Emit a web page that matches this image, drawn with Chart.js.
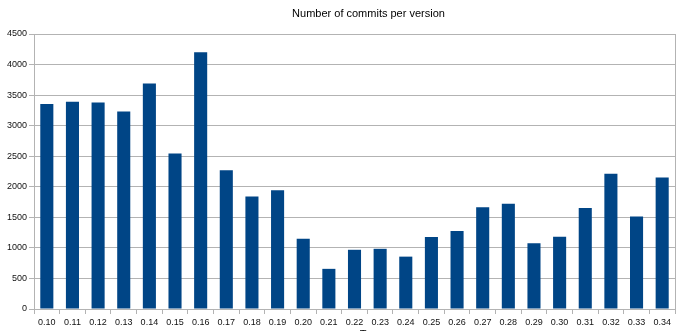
<!DOCTYPE html>
<html>
<head>
<meta charset="utf-8">
<script src="https://cdn.jsdelivr.net/npm/chart.js@4/dist/chart.umd.min.js"></script>
<style>
  html, body { margin: 0; padding: 0; background: #fff; }
  #wrap { width: 690px; height: 331px; }
</style>
</head>
<body>
<div id="wrap"><canvas id="myChart"></canvas></div>
<script>
// versions and commit counts
const versions = ["0.10", "0.11", "0.12", "0.13", "0.14", "0.15", "0.16", "0.17", "0.18", "0.19",
  "0.20", "0.21", "0.22", "0.23", "0.24", "0.25", "0.26", "0.27", "0.28", "0.29",
  "0.30", "0.31", "0.32", "0.33", "0.34"];
const commits = [3355, 3390, 3380, 3230, 3690, 2546, 4200, 2270, 1840, 1945,
  1150, 657, 969, 985, 857, 1180, 1278, 1664, 1724, 1075,
  1182, 1654, 2212, 1515, 2151];
const yTicks = [0, 500, 1000, 1500, 2000, 2500, 3000, 3500, 4000, 4500];

const titleText = "Number of commits per version";
const xTitleText = "Tag";
const gridGray = "#b3b3b3";

// title + axis title are drawn a bit right of center like the original,
// plus the right edge of the plot frame
const frameAndTitles = {
  id: "frameAndTitles",
  afterDraw(chart) {
    const ctx = chart.ctx;
    const a = chart.chartArea;
    const cx = (a.left + a.right) / 2 + 14;
    ctx.save();
    ctx.strokeStyle = gridGray;
    ctx.lineWidth = 1;
    ctx.beginPath();
    ctx.moveTo(Math.round(a.right) + 0.5, a.top);
    ctx.lineTo(Math.round(a.right) + 0.5, a.bottom);
    ctx.stroke();

    ctx.fillStyle = "#000";
    ctx.textAlign = "center";
    ctx.textBaseline = "middle";
    ctx.font = "11px 'Liberation Sans', Arial, sans-serif";
    ctx.fillText(titleText, cx, 13.5);

    ctx.textBaseline = "top";
    ctx.fillText(xTitleText, cx, chart.height - 2);
    ctx.restore();
  }
};

new Chart("myChart", {
  type: "bar",
  data: {
    labels: versions,
    datasets: [{
      data: commits,
      backgroundColor: "#004586",
      borderWidth: 0,
      barPercentage: 0.51,
      categoryPercentage: 1
    }]
  },
  options: {
    responsive: true,
    maintainAspectRatio: false,
    animation: false,
    layout: { padding: { top: 34, right: 15, left: 0, bottom: 0 } },
    plugins: {
      legend: { display: false },
      title: { display: false },
      tooltip: { enabled: false }
    },
    scales: {
      x: {
        grid: { display: true, drawOnChartArea: false, drawTicks: true, tickLength: 5, color: gridGray },
        border: { display: true, color: gridGray },
        ticks: {
          color: "#111",
          padding: 3,
          maxRotation: 0,
          autoSkip: false,
          font: { family: "'Liberation Sans', Arial, sans-serif", size: 9 }
        },
        afterFit(scale) { scale.height = 22; }
      },
      y: {
        min: 0,
        max: 4500,
        afterBuildTicks(scale) { scale.ticks = yTicks.map(v => ({ value: v })); },
        grid: { color: gridGray, tickLength: 5 },
        border: { display: true, color: gridGray },
        ticks: {
          color: "#111",
          padding: 2,
          callback: (v) => String(v),
          font: { family: "'Liberation Sans', Arial, sans-serif", size: 9 }
        },
        afterFit(scale) { scale.width = 34; }
      }
    }
  },
  plugins: [frameAndTitles]
});
</script>
</body>
</html>
